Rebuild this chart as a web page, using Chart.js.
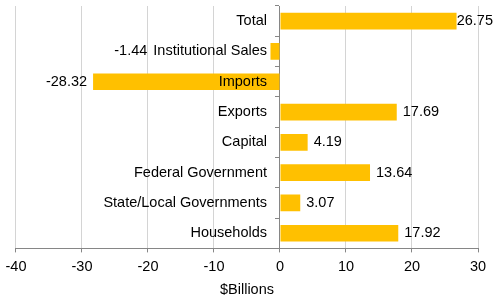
<!DOCTYPE html>
<html>
<head>
<meta charset="utf-8">
<script src="https://cdn.jsdelivr.net/npm/chart.js@4"></script>
<style>
  html, body { margin: 0; padding: 0; background: #fff; }
  #wrap { width: 495px; height: 297px; }
</style>
</head>
<body>
<div id="wrap"><canvas id="sourcesChart"></canvas></div>
<script>
const categories = ['Total', 'Institutional Sales', 'Imports', 'Exports', 'Capital', 'Federal Government', 'State/Local Governments', 'Households']
const values = [26.75, -1.44, -28.32, 17.69, 4.19, 13.64, 3.07, 17.92]
const xMin = -40
const xMax = 30
const xStep = 10
const axisTitle = '$Billions'

const font = { family: 'Arial, "Liberation Sans", sans-serif', size: 14.5 }
const labelGap = 13

// category labels beside the zero line, and value labels at the bar ends
const barLabels = {
  id: 'barLabels',
  afterDatasetsDraw (chart) {
    const { ctx } = chart
    const meta = chart.getDatasetMeta(0)
    const yScale = chart.scales.y
    const zero = chart.scales.x.getPixelForValue(0)
    ctx.save()
    ctx.font = `${font.size}px ${font.family}`
    ctx.fillStyle = '#000'
    ctx.textBaseline = 'middle'
    meta.data.forEach((bar, i) => {
      const y = yScale.getPixelForTick(i)
      const name = yScale.getLabelForValue(i)
      ctx.textAlign = 'right'
      ctx.fillText(name, zero - labelGap, y)

      const v = values[i]
      const text = v.toFixed(2)
      const w = ctx.measureText(text).width
      if (v >= 0) {
        ctx.textAlign = 'left'
        ctx.fillText(text, Math.min(bar.x + 6, chart.width - w - 2), bar.y)
      } else {
        // keep clear of the category label
        const labelLeft = zero - labelGap - ctx.measureText(name).width
        ctx.textAlign = 'right'
        ctx.fillText(text, Math.min(bar.x, labelLeft) - 6, bar.y)
      }
    })
    ctx.restore()
  }
}

const sourcesChart = document.querySelector('#sourcesChart')
new Chart(sourcesChart, {
  type: 'bar',
  data: {
    labels: categories,
    datasets: [
      {
        data: values,
        backgroundColor: '#FFC000',
        categoryPercentage: 1,
        barPercentage: 0.55
      }
    ]
  },
  options: {
    indexAxis: 'y',
    responsive: true,
    maintainAspectRatio: false,
    animation: false,
    layout: {
      padding: { top: 6, left: 7, right: 17, bottom: 0 }
    },
    plugins: {
      legend: { display: false },
      tooltip: { enabled: false }
    },
    scales: {
      x: {
        min: xMin,
        max: xMax,
        ticks: {
          stepSize: xStep,
          color: '#000',
          font: font,
          padding: 5.5
        },
        grid: {
          color: '#d4d4d4',
          tickColor: '#868686',
          tickLength: 4
        },
        border: { color: '#868686' },
        title: {
          display: true,
          text: axisTitle,
          color: '#000',
          font: font,
          padding: { top: 0.8, bottom: -2 }
        }
      },
      y: {
        position: { x: 0 },
        ticks: { display: false },
        grid: {
          drawOnChartArea: false,
          offset: true,
          tickColor: '#868686',
          tickLength: 4
        },
        border: { color: '#868686' }
      }
    }
  },
  plugins: [barLabels]
})
</script>
</body>
</html>
